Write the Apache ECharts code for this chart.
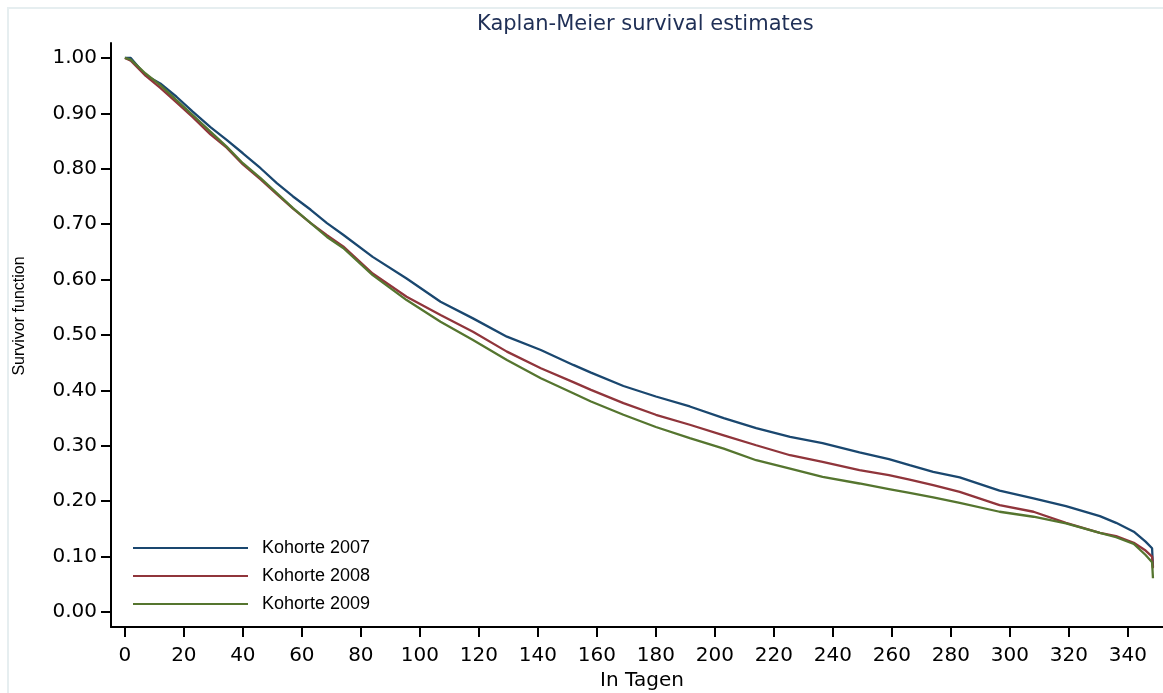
<!DOCTYPE html>
<html>
<head>
<meta charset="utf-8">
<script src="https://cdn.jsdelivr.net/npm/echarts@6/dist/echarts.min.js"></script>
<style>html,body{margin:0;padding:0;background:#fff}#c{width:1163px;height:693px}</style>
</head>
<body>
<div id="c"></div>
<script>
const seriesNames = ['Kohorte 2007', 'Kohorte 2008', 'Kohorte 2009'];
const days = [0, 2, 7, 12, 17.5, 23, 29, 34.5, 40, 46, 51.5, 57, 63, 68.5, 74, 84, 95.5, 107, 118, 129.5, 141, 152, 158, 169, 180, 191.5, 203, 214, 225.5, 236.5, 249, 259, 266, 274, 283, 296.5, 308, 319, 330.5, 336, 342, 346, 348.2, 348.5];
const kohorte2007 = [1, 1, 0.969, 0.954, 0.930, 0.903, 0.875, 0.852, 0.828, 0.801, 0.774, 0.750, 0.726, 0.702, 0.681, 0.641, 0.602, 0.560, 0.530, 0.497, 0.473, 0.446, 0.432, 0.408, 0.389, 0.371, 0.350, 0.332, 0.316, 0.305, 0.288, 0.276, 0.265, 0.253, 0.243, 0.219, 0.205, 0.191, 0.173, 0.161, 0.145, 0.127, 0.115, 0.081];
const kohorte2008 = [1, 0.995, 0.968, 0.946, 0.920, 0.893, 0.862, 0.838, 0.808, 0.781, 0.754, 0.728, 0.702, 0.680, 0.660, 0.611, 0.569, 0.536, 0.506, 0.470, 0.440, 0.415, 0.401, 0.377, 0.356, 0.338, 0.319, 0.301, 0.283, 0.271, 0.256, 0.247, 0.239, 0.229, 0.217, 0.193, 0.181, 0.161, 0.143, 0.137, 0.125, 0.111, 0.100, 0.079];
const kohorte2009 = [1, 0.997, 0.972, 0.951, 0.924, 0.897, 0.867, 0.840, 0.810, 0.783, 0.756, 0.729, 0.702, 0.677, 0.657, 0.608, 0.563, 0.524, 0.491, 0.455, 0.422, 0.395, 0.380, 0.356, 0.334, 0.314, 0.295, 0.274, 0.259, 0.244, 0.232, 0.222, 0.215, 0.207, 0.197, 0.181, 0.172, 0.160, 0.143, 0.135, 0.123, 0.103, 0.090, 0.061];
const yTicks = [0, 0.1, 0.2, 0.3, 0.4, 0.5, 0.6, 0.7, 0.8, 0.9, 1.0];
const xTicks = [0, 20, 40, 60, 80, 100, 120, 140, 160, 180, 200, 220, 240, 260, 280, 300, 320, 340];
const colors = ['#1a476f', '#90353b', '#55752f'];

const allValues = [kohorte2007, kohorte2008, kohorte2009];
const chart = echarts.init(document.getElementById('c'), null, {renderer: 'canvas'});
const axisLineStyle = {color: '#000', width: 2};
chart.setOption({
  animation: false,
  backgroundColor: '#fff',
  color: colors,
  title: {
    text: 'Kaplan-Meier survival estimates',
    left: 477, top: 14, padding: 0,
    textStyle: {fontFamily: 'DejaVu Sans', fontSize: 21, fontWeight: 'normal', color: '#1f2f56'}
  },
  graphic: [
    {type: 'rect', shape: {x: 8, y: 8, width: 1300, height: 900}, style: {fill: 'none', stroke: '#e6eef0', lineWidth: 2}, silent: true, z: -1},
    {type: 'text', x: 20, y: 316, rotation: Math.PI / 2,
     style: {text: 'Survivor function', fontFamily: 'Liberation Sans', fontSize: 16, fill: '#000', textAlign: 'center', textVerticalAlign: 'middle'}}
  ],
  legend: {
    orient: 'vertical', left: 128, top: 533,
    itemWidth: 115, itemHeight: 2, itemGap: 8, icon: 'rect',
    data: seriesNames,
    textStyle: {fontFamily: 'Liberation Sans', fontSize: 18, color: '#000', lineHeight: 20, padding: [0, 0, 0, 9]}
  },
  grid: {left: 111, right: 0, top: 43, bottom: 66, containLabel: false, outerBoundsMode: 'none'},
  xAxis: {
    type: 'value', min: -4.7, max: 351.9,
    splitLine: {show: false},
    axisLine: {show: true, lineStyle: axisLineStyle, onZero: false},
    axisTick: {show: true, length: 10, lineStyle: axisLineStyle, customValues: xTicks},
    axisLabel: {customValues: xTicks, margin: 19, fontFamily: 'DejaVu Sans', fontSize: 20, color: '#000'},
    name: 'In Tagen', nameLocation: 'middle', nameGap: 43,
    nameTextStyle: {fontFamily: 'DejaVu Sans', fontSize: 20, color: '#000', padding: [0, 0, 0, 10]}
  },
  yAxis: {
    type: 'value', min: -0.027, max: 1.027,
    splitLine: {show: false},
    axisLine: {show: true, lineStyle: axisLineStyle, onZero: false},
    axisTick: {show: true, length: 10, lineStyle: axisLineStyle, customValues: yTicks},
    axisLabel: {customValues: yTicks, margin: 14, fontFamily: 'DejaVu Sans', fontSize: 20, color: '#000',
      formatter: v => v.toFixed(2)}
  },
  series: seriesNames.map((name, i) => ({
    name, type: 'line', showSymbol: false, symbol: 'none',
    data: days.map((d, j) => [d, allValues[i][j]]),
    lineStyle: {width: 2.3, color: colors[i]},
    itemStyle: {color: colors[i]}
  }))
});
</script>
</body>
</html>
